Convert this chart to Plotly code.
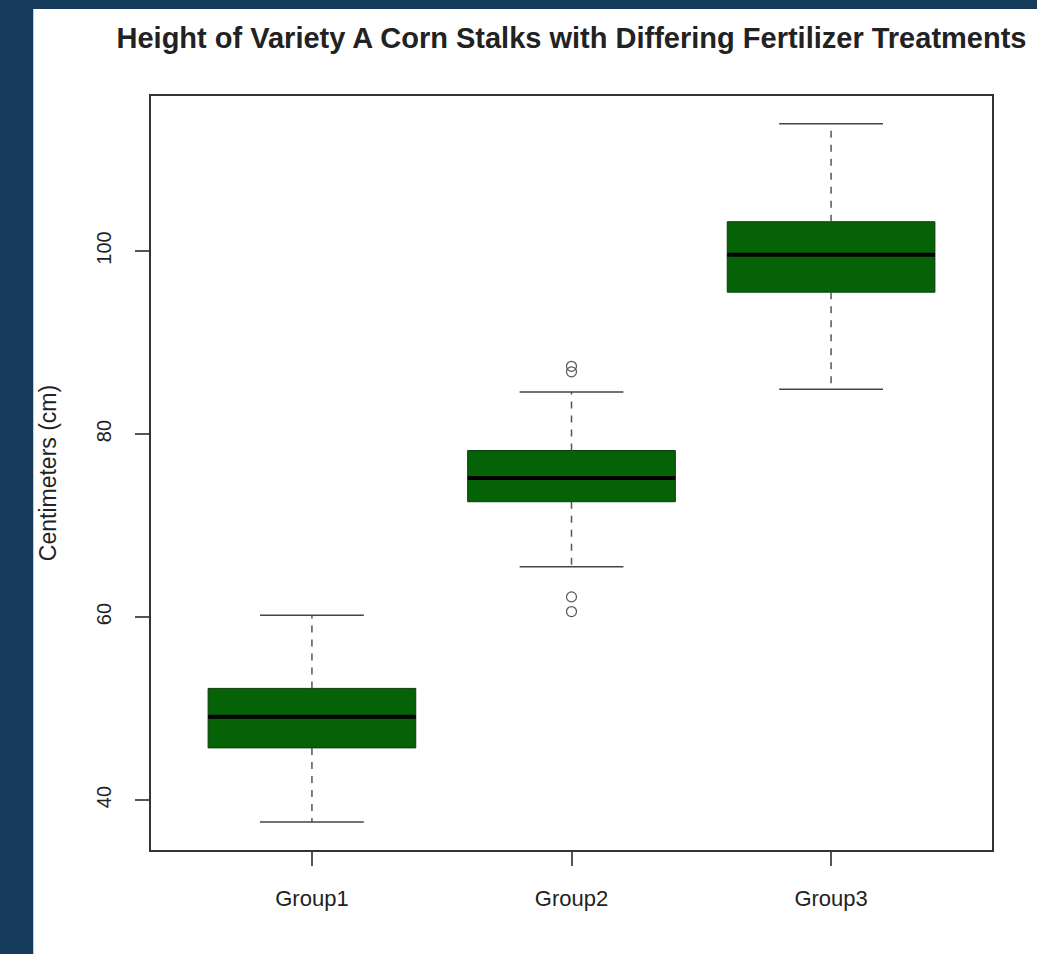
import plotly.graph_objects as go

# Stalk height summaries (cm) for each fertilizer group
groups = ["Group1", "Group2", "Group3"]
positions = [1, 2, 3]
q1 = [45.7, 72.6, 95.5]
median = [49.1, 75.2, 99.6]
q3 = [52.2, 78.2, 103.2]
lower_whisker = [37.6, 65.5, 84.9]
upper_whisker = [60.2, 84.6, 113.9]

# Points beyond the whiskers
outlier_group = [2, 2, 2, 2]
outlier_value = [87.4, 86.8, 62.2, 60.6]

BOX_W = 0.8
CAP_HALF = 0.2
GREEN = "#066206"
NAVY = "#163a5c"
INK = "#222222"
FONT = "Liberation Sans, Arial, sans-serif"

fig = go.Figure()

# Boxes (interquartile range)
fig.add_trace(go.Box(
    x=positions, q1=q1, median=median, q3=q3,
    lowerfence=q1, upperfence=q3,
    width=BOX_W, fillcolor=GREEN,
    line=dict(color="#0b3d0b", width=1),
    whiskerwidth=0, hoverinfo="skip", showlegend=False,
))

# Dashed whiskers
wx, wy = [], []
for c, a, b, lo, hi in zip(positions, q1, q3, lower_whisker, upper_whisker):
    wx += [c, c, None, c, c, None]
    wy += [b, hi, None, a, lo, None]
fig.add_trace(go.Scatter(
    x=wx, y=wy, mode="lines",
    line=dict(color="#555555", width=1.5, dash="7px,7px"),
    hoverinfo="skip", showlegend=False,
))

# Whisker caps
cx, cy = [], []
for c, lo, hi in zip(positions, lower_whisker, upper_whisker):
    cx += [c - CAP_HALF, c + CAP_HALF, None, c - CAP_HALF, c + CAP_HALF, None]
    cy += [hi, hi, None, lo, lo, None]
fig.add_trace(go.Scatter(
    x=cx, y=cy, mode="lines",
    line=dict(color="#444444", width=1.5),
    hoverinfo="skip", showlegend=False,
))

# Thick median bars
mx, my = [], []
for c, m in zip(positions, median):
    mx += [c - BOX_W / 2, c + BOX_W / 2, None]
    my += [m, m, None]
fig.add_trace(go.Scatter(
    x=mx, y=my, mode="lines",
    line=dict(color="#000000", width=4),
    hoverinfo="skip", showlegend=False,
))

# Outliers
fig.add_trace(go.Scatter(
    x=outlier_group, y=outlier_value, mode="markers",
    marker=dict(symbol="circle-open", size=10, color="#555555",
                line=dict(width=1.2, color="#555555")),
    hoverinfo="skip", showlegend=False,
))

fig.update_layout(
    width=1037, height=954,
    margin=dict(l=151, r=45, t=96, b=104),
    paper_bgcolor=NAVY,
    plot_bgcolor="white",
    title=dict(
        text="<b>Height of Variety A Corn Stalks with Differing Fertilizer Treatments</b>",
        x=(151 + 992) / 2 / 1037, xanchor="center",
        y=1 - 38 / 954, yanchor="middle",
        font=dict(family=FONT, size=29, color=INK),
    ),
    shapes=[dict(
        type="rect", xref="paper", yref="paper",
        x0=-0.14, x1=1.06, y0=-0.15, y1=1.1154,
        fillcolor="white", line=dict(width=0), layer="below",
    )],
)

fig.update_xaxes(
    range=[0.38, 3.62],
    tickvals=positions, ticktext=groups,
    showgrid=False, zeroline=False,
    showline=True, mirror=True, linecolor="#333333", linewidth=1.5,
    ticks="outside", ticklen=14, tickcolor="#555555", tickwidth=1.5,
    ticklabelstandoff=14,
    tickfont=dict(family=FONT, size=22, color=INK),
)
fig.update_yaxes(
    range=[34.54, 116.94],
    tickvals=[40, 60, 80, 100],
    showgrid=False, zeroline=False,
    showline=True, mirror=True, linecolor="#333333", linewidth=1.5,
    ticks="outside", ticklen=14, tickcolor="#555555", tickwidth=1.5,
    tickangle=-90, ticklabelstandoff=16,
    tickfont=dict(family=FONT, size=20, color=INK),
    title=dict(text="Centimeters (cm)", standoff=30,
               font=dict(family=FONT, size=23, color=INK)),
)

fig.write_html("out.html")
